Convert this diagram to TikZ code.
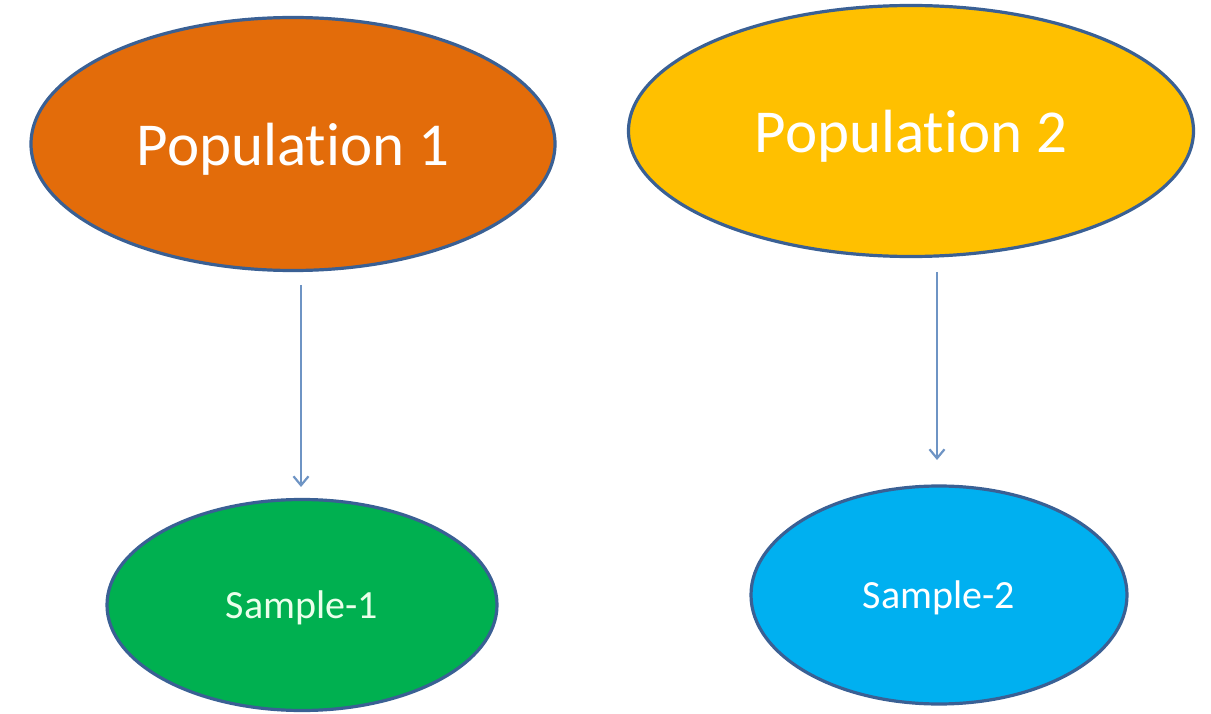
\documentclass[tikz,border=0pt]{standalone}
\usepackage{fontspec}
\setmainfont{Carlito}[Ligatures=NoCommon]
\usetikzlibrary{shapes.geometric,arrows.meta}
\definecolor{popA}{HTML}{E36C0A}
\definecolor{popB}{HTML}{FFC000}
\definecolor{sampA}{HTML}{00B050}
\definecolor{sampB}{HTML}{00B0F0}
\definecolor{edge}{HTML}{3A6094}
\definecolor{arr}{HTML}{6E94C4}
\tikzset{
  blob/.style={ellipse, draw=edge, line width=3.2pt, inner sep=0pt, text=white, text depth=0pt},
  link/.style={draw=arr, line width=2.2pt, -{Straight Barb[length=9pt,width=15pt,line width=2.2pt]}}
}
\begin{document}
\begin{tikzpicture}[x=1pt,y=-1pt]
\useasboundingbox (0,0) rectangle (1211,714);
\node[blob, fill=popA, minimum width=524, minimum height=253, font=\fontsize{61}{61}\selectfont] (p1) at (293,144) {Population 1};
\node[blob, fill=popB, minimum width=565, minimum height=251, font=\fontsize{61}{61}\selectfont] (p2) at (911,131) {Population 2};
\node[blob, fill=sampA, minimum width=390, minimum height=211, font=\fontsize{40}{40}\selectfont, text=white!92!green] (s1) at (302,605) {Sample-1};
\node[blob, fill=sampB, minimum width=376, minimum height=218, font=\fontsize{40}{40}\selectfont] (s2) at (939,595) {Sample-2};
\coordinate (a1s) at (301,285);
\coordinate (a1e) at (301,487);
\coordinate (a2s) at (937,272);
\coordinate (a2e) at (937,460);
\draw[link] (a1s) -- (a1e);
\draw[link] (a2s) -- (a2e);
\end{tikzpicture}
\end{document}
